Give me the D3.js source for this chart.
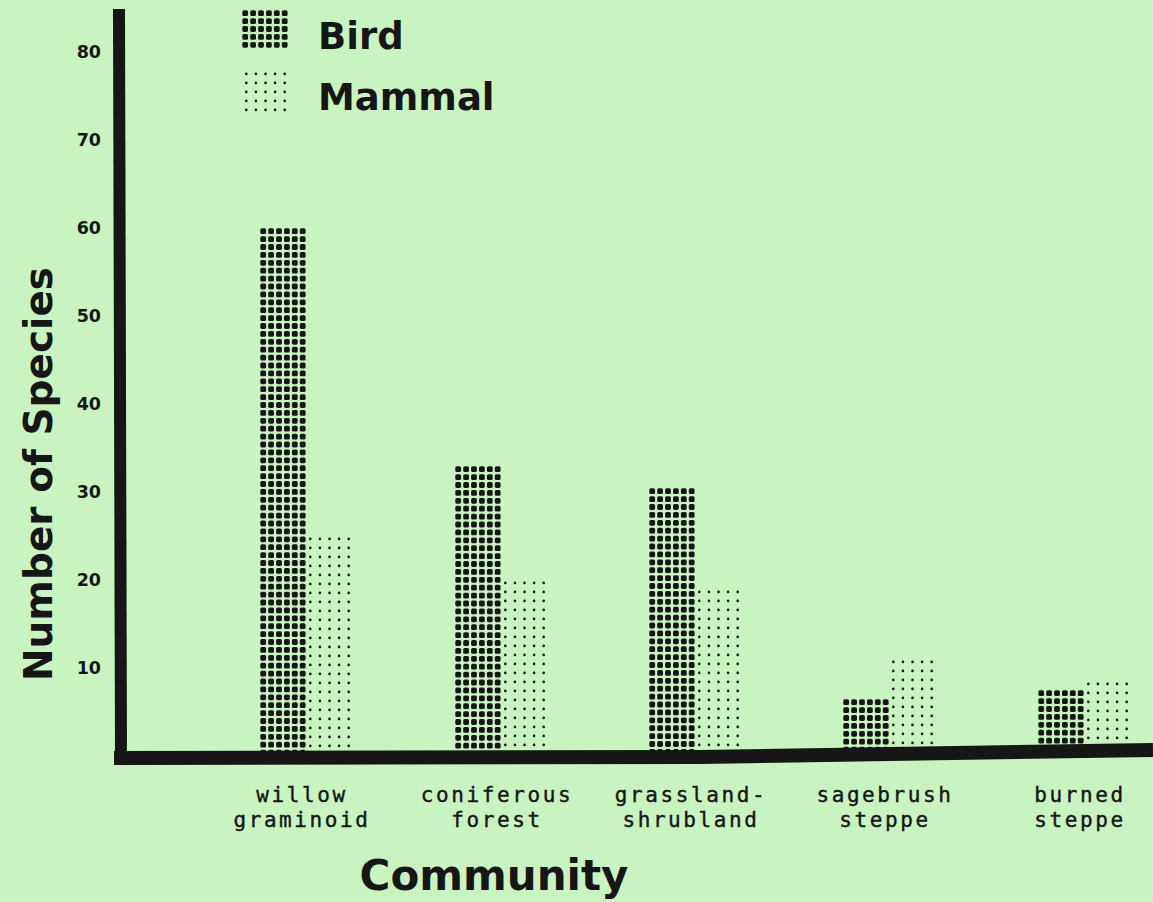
<!DOCTYPE html>
<html>
<head>
<meta charset="utf-8">
<script src="https://cdn.jsdelivr.net/npm/d3@7"></script>
<style>
  html, body { margin: 0; padding: 0; background: #c9f4c1; }
  svg { display: block; }
</style>
</head>
<body>
<script>
// data
var communities = ["willow graminoid", "coniferous forest", "grassland-shrubland", "sagebrush steppe", "burned steppe"];
var labelLines = [["willow", "graminoid"], ["coniferous", "forest"], ["grassland-", "shrubland"], ["sagebrush", "steppe"], ["burned", "steppe"]];
var series = ["Bird", "Mammal"];
var birdValues = [60, 33, 30.5, 6.5, 7.5];
var mammalValues = [25, 20, 19, 11, 8.5];
var yTicks = [10, 20, 30, 40, 50, 60, 70, 80];

var width = 1153, height = 902;
var ink = "#161616";

var svg = d3.select("body").append("svg")
    .attr("width", width)
    .attr("height", height);

svg.append("rect").attr("width", width).attr("height", height).attr("fill", "#c9f4c1");

var y = d3.scaleLinear().domain([0, 80]).range([756, 52]);
var x0 = d3.scaleBand().domain(communities).range([210, 1182]);
var x1 = d3.scaleBand().domain(series).range([-47, 45]);

var rows = communities.map(function(c, i) {
    return {community: c, lines: labelLines[i], values: [birdValues[i], mammalValues[i]]};
});

// dot screen fill, like the printer's shading
var screens = {
    Bird: {dx: 7.9, dy: 7.9, ox: 0.3, oy: 0.3, size: 5.8},
    Mammal: {dx: 9.6, dy: 9, ox: 3, oy: 1.6, size: 2.6}
};

function dotFill(g, kind, bx, by, bw, bh) {
    var sc = screens[kind];
    var cols = Math.floor((bw - sc.ox - sc.size) / sc.dx) + 1;
    var nrows = Math.floor((bh - sc.oy - sc.size) / sc.dy) + 1;
    var pts = [];
    d3.range(nrows).forEach(function(r) {
        d3.range(cols).forEach(function(c) {
            pts.push([bx + sc.ox + c * sc.dx, by + sc.oy + r * sc.dy]);
        });
    });
    g.selectAll(null)
        .data(pts)
        .enter().append("rect")
        .attr("x", function(p) { return p[0]; })
        .attr("y", function(p) { return p[1]; })
        .attr("width", sc.size)
        .attr("height", sc.size)
        .attr("rx", kind === "Bird" ? 1.6 : sc.size / 2)
        .attr("fill", ink);
}

var groups = svg.selectAll(".community")
    .data(rows)
    .enter().append("g")
    .attr("class", "community");

groups.each(function(d, i) {
    var g = d3.select(this);
    var cx = Math.round(x0(d.community) + x0.bandwidth() / 2);
    d.values.forEach(function(v, j) {
        var s = series[j];
        var bx = cx + x1(s);
        var by = Math.round(y(v));
        dotFill(g.append("g").attr("class", "bar " + s), s, bx, by, x1.bandwidth(), y(0) - by);
    });
    var t = g.append("text")
        .attr("y", 802)
        .attr("text-anchor", "middle")
        .attr("font-family", "DejaVu Sans Mono")
        .attr("font-size", 21)
        .attr("letter-spacing", 2.6)
        .attr("fill", ink)
        .attr("stroke", ink)
        .attr("stroke-width", 0.4);
    t.selectAll("tspan")
        .data(d.lines)
        .enter().append("tspan")
        .attr("x", cx - 5)
        .attr("dy", function(l, k) { return k === 0 ? 0 : 25; })
        .text(function(l) { return l; });
});

// axes: thick hand-drawn style lines
svg.append("path")
    .attr("d", "M119,9 L121,762")
    .attr("stroke", ink)
    .attr("stroke-width", 12)
    .attr("fill", "none");
svg.append("path")
    .attr("d", "M114,758 L700,757 L1153,750")
    .attr("stroke", ink)
    .attr("stroke-width", 14)
    .attr("fill", "none");

var yAxis = svg.append("g")
    .attr("transform", "translate(101,0)")
    .call(d3.axisLeft(y).tickValues(yTicks).tickSize(0).tickPadding(0));
yAxis.select(".domain").remove();
yAxis.selectAll("text")
    .attr("font-family", "DejaVu Sans")
    .attr("font-weight", "bold")
    .attr("font-size", 17.5)
    .attr("fill", ink);

// axis titles
svg.append("text")
    .attr("transform", "translate(52,474) rotate(-90)")
    .attr("text-anchor", "middle")
    .attr("font-family", "DejaVu Sans")
    .attr("font-weight", "bold")
    .attr("font-size", 39)
    .attr("fill", ink)
    .text("Number of Species");

svg.append("text")
    .attr("x", 494)
    .attr("y", 890)
    .attr("text-anchor", "middle")
    .attr("font-family", "DejaVu Sans")
    .attr("font-weight", "bold")
    .attr("font-size", 42)
    .attr("fill", ink)
    .text("Community");

// legend
var legendY = [10, 71];
var legend = svg.selectAll(".legend")
    .data(series)
    .enter().append("g")
    .attr("class", "legend");

legend.each(function(s, i) {
    var g = d3.select(this);
    dotFill(g, s, 242, legendY[i], 46, 44);
    g.append("text")
        .attr("x", 318)
        .attr("y", legendY[i] + 39)
        .attr("font-family", "DejaVu Sans")
        .attr("font-weight", "bold")
        .attr("font-size", 37)
        .attr("fill", ink)
        .text(s);
});
</script>
</body>
</html>
